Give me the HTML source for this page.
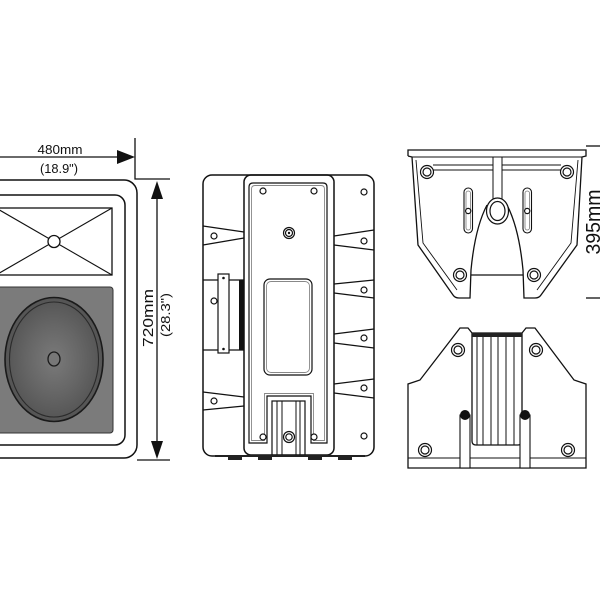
<!DOCTYPE html>
<html><head><meta charset="utf-8"><style>
html,body{margin:0;padding:0;background:#fff;}
svg{display:block;}
text{font-family:"Liberation Sans",Arial,sans-serif;fill:#111;}
</style></head><body>
<svg width="600" height="600" viewBox="0 0 600 600" xmlns="http://www.w3.org/2000/svg">
<defs>
<radialGradient id="cone" cx="50%" cy="50%" r="55%">
<stop offset="0" stop-color="#7a7a7a"/>
<stop offset="0.5" stop-color="#666"/>
<stop offset="1" stop-color="#505050"/>
</radialGradient>
</defs>
<rect width="600" height="600" fill="#fff"/>

<!-- ===== FRONT VIEW ===== -->
<g fill="none" stroke="#111" stroke-width="1.5">
<rect x="-29" y="180" width="166" height="278" rx="13"/>
<rect x="-17" y="195" width="142" height="250" rx="10"/>
<rect x="-4" y="208" width="116" height="67" stroke-width="1.3"/>
<line x1="-4" y1="208" x2="112" y2="275" stroke-width="1.1"/>
<line x1="112" y1="208" x2="-4" y2="275" stroke-width="1.1"/>
</g>
<circle cx="54" cy="241.5" r="6" fill="#fff" stroke="#111" stroke-width="1.3"/>
<rect x="-4" y="287" width="117" height="146" rx="3" fill="#7b7b7b" stroke="#333" stroke-width="1"/>
<ellipse cx="54" cy="359.5" rx="49" ry="62" fill="url(#cone)" stroke="#1a1a1a" stroke-width="1.6"/>
<ellipse cx="54" cy="359.5" rx="44.5" ry="57.5" fill="none" stroke="#2a2a2a" stroke-width="1.1"/>
<ellipse cx="54" cy="359" rx="6" ry="7" fill="#777" stroke="#1a1a1a" stroke-width="1.3"/>

<!-- dimensions front -->
<g stroke="#111" stroke-width="1.3" fill="none">
<line x1="-5" y1="157" x2="122" y2="157"/>
<polyline points="135,138 135,179 170,179"/>
<line x1="157" y1="192" x2="157" y2="448"/>
<line x1="137" y1="460" x2="170" y2="460"/>
</g>
<polygon points="135,157 117,150 117,164" fill="#111"/>
<polygon points="157,181 151,199 163,199" fill="#111"/>
<polygon points="157,459 151,441 163,441" fill="#111"/>
<text x="60" y="154" font-size="13" text-anchor="middle" textLength="45" lengthAdjust="spacingAndGlyphs">480mm</text>
<text x="59" y="173" font-size="13" text-anchor="middle" textLength="38" lengthAdjust="spacingAndGlyphs">(18.9")</text>
<text transform="translate(153,318) rotate(-90)" x="0" y="0" font-size="15" text-anchor="middle" textLength="58" lengthAdjust="spacingAndGlyphs">720mm</text>
<text transform="translate(170,315) rotate(-90)" x="0" y="0" font-size="13" text-anchor="middle" textLength="44" lengthAdjust="spacingAndGlyphs">(28.3")</text>

<!-- ===== SIDE VIEW ===== -->
<g fill="none" stroke="#111" stroke-width="1.5">
<rect x="203" y="175" width="171" height="281" rx="9"/>
<rect x="244" y="175" width="90" height="280" rx="7"/>
<path d="M249,187 Q249,183 253,183 L323,183 Q327,183 327,187 L327,443 L311,443 L311,396 L267,396 L267,443 L249,443 Z" stroke-width="1.2"/>
<path d="M251.5,189 Q251.5,185.5 255,185.5 L321,185.5 Q324.5,185.5 324.5,189 L324.5,440.5 L313.5,440.5 L313.5,393.5 L264.5,393.5 L264.5,440.5 L251.5,440.5 Z" stroke="#888" stroke-width="0.9"/>
<rect x="264" y="279" width="48" height="96" rx="6" stroke-width="1.2"/>
<rect x="266.5" y="281.5" width="43" height="91" rx="4.5" stroke="#888" stroke-width="0.9"/>
<!-- left side -->
<line x1="203" y1="226" x2="244" y2="232" stroke-width="1.2"/>
<line x1="203" y1="245" x2="244" y2="238" stroke-width="1.2"/>
<line x1="203" y1="392" x2="244" y2="397" stroke-width="1.2"/>
<line x1="203" y1="410" x2="244" y2="406" stroke-width="1.2"/>
<line x1="203" y1="280" x2="244" y2="280" stroke-width="1.2"/>
<line x1="203" y1="350" x2="244" y2="350" stroke-width="1.2"/>
<rect x="218" y="274" width="11" height="79" stroke-width="1.2" fill="#fff"/>
<!-- right side -->
<line x1="334" y1="236" x2="374" y2="230" stroke-width="1.2"/>
<line x1="334" y1="245" x2="374" y2="250" stroke-width="1.2"/>
<line x1="334" y1="284" x2="374" y2="280" stroke-width="1.2"/>
<line x1="334" y1="293" x2="374" y2="298" stroke-width="1.2"/>
<line x1="334" y1="334" x2="374" y2="329" stroke-width="1.2"/>
<line x1="334" y1="343" x2="374" y2="348" stroke-width="1.2"/>
<line x1="334" y1="384" x2="374" y2="379" stroke-width="1.2"/>
<line x1="334" y1="393" x2="374" y2="398" stroke-width="1.2"/>
<!-- grooved block -->
<rect x="272" y="401" width="33" height="55" stroke-width="1.2"/>
<line x1="277" y1="401" x2="277" y2="456" stroke-width="1"/>
<line x1="282" y1="401" x2="282" y2="456" stroke-width="1"/>
<line x1="296" y1="401" x2="296" y2="456" stroke-width="1"/>
<line x1="300" y1="401" x2="300" y2="456" stroke-width="1"/>
</g>
<rect x="239" y="280" width="5" height="70" fill="#111"/>
<circle cx="223.5" cy="278" r="1.3" fill="#111"/>
<circle cx="223.5" cy="349" r="1.3" fill="#111"/>
<g fill="#fff" stroke="#111" stroke-width="1.2">
<circle cx="263" cy="191" r="3"/>
<circle cx="314" cy="191" r="3"/>
<circle cx="364" cy="192" r="3"/>
<circle cx="263" cy="437" r="3"/>
<circle cx="314" cy="437" r="3"/>
<circle cx="364" cy="436" r="3"/>
<circle cx="214" cy="236" r="3"/>
<circle cx="214" cy="301" r="3"/>
<circle cx="214" cy="401" r="3"/>
<circle cx="364" cy="241" r="3"/>
<circle cx="364" cy="290" r="3"/>
<circle cx="364" cy="338" r="3"/>
<circle cx="364" cy="388" r="3"/>
<circle cx="289" cy="233" r="5.5"/>
<circle cx="289" cy="233" r="3.5"/>
<circle cx="289" cy="437" r="5.5"/>
<circle cx="289" cy="437" r="3.2"/>
</g>
<circle cx="289" cy="233" r="1.2" fill="#111"/>
<g fill="#222">
<rect x="215" y="455" width="150" height="2"/>
<rect x="228" y="455" width="14" height="5"/>
<rect x="258" y="455" width="14" height="5"/>
<rect x="308" y="455" width="14" height="5"/>
<rect x="338" y="455" width="14" height="5"/>
</g>

<!-- ===== TOP-RIGHT VIEW ===== -->
<g fill="none" stroke="#111" stroke-width="1.3">
<path d="M408,156 L408,150 L586,150 L586,156 L582,157 L577,245 L541,295 Q539,298 535,298 L524,298 L523,270 Q519,228 507,205"/>
<path d="M487,205 Q475,228 471,270 L470,298 L459,298 Q455,298 453,295 L418,245 L412,157 L408,156"/>
<line x1="412" y1="157" x2="582" y2="157" stroke-width="1"/>
<polyline points="416,160 423,243 457,290" stroke-width="0.9"/>
<polyline points="578,160 571,243 537,290" stroke-width="0.9"/>
<line x1="433" y1="165" x2="493" y2="165" stroke-width="1"/>
<line x1="433" y1="170" x2="493" y2="170" stroke-width="1"/>
<line x1="502" y1="165" x2="561" y2="165" stroke-width="1"/>
<line x1="502" y1="170" x2="561" y2="170" stroke-width="1"/>
<line x1="493" y1="157" x2="493" y2="200" stroke-width="1"/>
<line x1="502" y1="157" x2="502" y2="200" stroke-width="1"/>
<line x1="471" y1="275" x2="523" y2="275"/>
<rect x="464" y="188" width="8.5" height="45" rx="4.2" stroke-width="1.1"/>
<rect x="466" y="191" width="4.5" height="39" rx="2.2" stroke="#777" stroke-width="0.8"/>
<rect x="523" y="188" width="8.5" height="45" rx="4.2" stroke-width="1.1"/>
<rect x="525" y="191" width="4.5" height="39" rx="2.2" stroke="#777" stroke-width="0.8"/>
</g>
<g fill="#fff" stroke="#111" stroke-width="1.2">
<circle cx="468.2" cy="211" r="2.6"/>
<circle cx="527.2" cy="211" r="2.6"/>
<ellipse cx="497.5" cy="211" rx="11" ry="13"/>
<ellipse cx="497.5" cy="211" rx="7.5" ry="9.5"/>
<circle cx="427" cy="172" r="6.5"/>
<circle cx="427" cy="172" r="4"/>
<circle cx="567" cy="172" r="6.5"/>
<circle cx="567" cy="172" r="4"/>
<circle cx="460" cy="275" r="6.5"/>
<circle cx="460" cy="275" r="4"/>
<circle cx="534" cy="275" r="6.5"/>
<circle cx="534" cy="275" r="4"/>
</g>
<g stroke="#111" stroke-width="1.3">
<line x1="586" y1="146" x2="600" y2="146"/>
<line x1="586" y1="298" x2="600" y2="298"/>
</g>
<text transform="translate(600,222) rotate(-90)" x="0" y="0" font-size="20" text-anchor="middle" textLength="65" lengthAdjust="spacingAndGlyphs">395mm</text>

<!-- ===== BOTTOM-RIGHT VIEW ===== -->
<g fill="none" stroke="#111" stroke-width="1.3">
<polygon points="408,468 408,384 420,380 460,328 468,328 472,333 522,333 526,328 535,328 574,380 586,384 586,468"/>
<line x1="408" y1="458" x2="586" y2="458" stroke-width="1.1"/>
<path d="M472,333 L472,441 Q472,445 476,445 L518,445 Q522,445 522,441 L522,333" fill="#fff"/>
<line x1="477" y1="337" x2="477" y2="445" stroke-width="1"/>
<line x1="483" y1="337" x2="483" y2="445" stroke-width="1"/>
<line x1="491" y1="337" x2="491" y2="445" stroke-width="1"/>
<line x1="498" y1="337" x2="498" y2="445" stroke-width="1"/>
<line x1="506" y1="337" x2="506" y2="445" stroke-width="1"/>
<line x1="514" y1="337" x2="514" y2="445" stroke-width="1"/>
<rect x="460" y="415" width="10" height="53" fill="#fff" stroke-width="1.1"/>
<rect x="520" y="415" width="10" height="53" fill="#fff" stroke-width="1.1"/>
</g>
<rect x="472" y="333" width="50" height="4" fill="#222"/>
<circle cx="465" cy="415" r="5" fill="#111"/>
<circle cx="525" cy="415" r="5" fill="#111"/>
<g fill="#fff" stroke="#111" stroke-width="1.2">
<circle cx="458" cy="350" r="6.5"/>
<circle cx="458" cy="350" r="4"/>
<circle cx="536" cy="350" r="6.5"/>
<circle cx="536" cy="350" r="4"/>
<circle cx="425" cy="450" r="6.5"/>
<circle cx="425" cy="450" r="4"/>
<circle cx="568" cy="450" r="6.5"/>
<circle cx="568" cy="450" r="4"/>
</g>
</svg>
</body></html>
